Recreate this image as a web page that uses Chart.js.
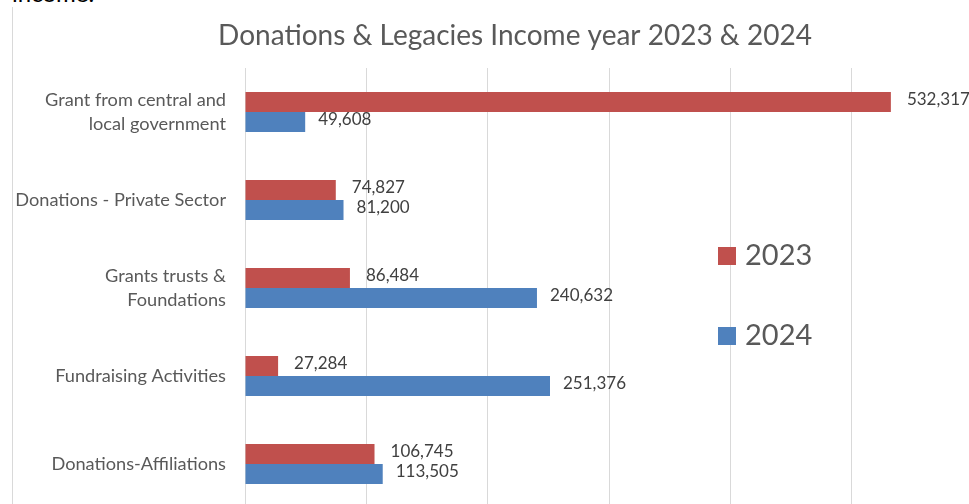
<!DOCTYPE html>
<html>
<head>
<meta charset="utf-8">
<script src="https://cdn.jsdelivr.net/npm/chart.js@4.4.1/dist/chart.umd.min.js"></script>
<style>
  html, body { margin: 0; padding: 0; background: #fff; overflow: hidden; width: 969px; height: 504px; }
  .note { position: absolute; left: 12px; top: -19px; font: 24px Lato, sans-serif; color: #000; line-height: 24px; }
  .frame { position: absolute; left: 12px; top: 7px; width: 961px; height: 520px; border-left: 1px solid #d9d9d9; }
  .wrap { position: absolute; left: 0; top: 0; width: 1030px; height: 520px; }
</style>
</head>
<body>
<div class="note">income.</div>
<div class="frame"></div>
<div class="wrap"><canvas id="chart"></canvas></div>
<script>
const categories = [
  ["Grant from central and", "local government"],
  "Donations - Private Sector",
  ["Grants trusts &", "Foundations"],
  "Fundraising Activities",
  "Donations-Affiliations"
];
const income2023 = [532317, 74827, 86484, 27284, 106745];
const income2024 = [49608, 81200, 240632, 251376, 113505];
const seriesNames = ["2023", "2024"];

const RED = "#c0504d";
const BLUE = "#4f81bd";
const TEXT = "#595959";

// value printed just past the end of every bar
const barValues = {
  id: "barValues",
  afterDatasetsDraw(chart) {
    const ctx = chart.ctx;
    const gap = [16, 13];
    ctx.save();
    ctx.font = "17px Lato";
    ctx.fillStyle = "#404040";
    ctx.textAlign = "left";
    ctx.textBaseline = "middle";
    chart.data.datasets.forEach((ds, i) => {
      chart.getDatasetMeta(i).data.forEach((bar, j) => {
        ctx.fillText(ds.data[j].toLocaleString("en-US"), bar.x + gap[i], bar.y - 2);
      });
    });
    ctx.restore();
  }
};

// legend sits inside the plot, to the right of the bars
const sideLegend = {
  id: "sideLegend",
  afterDraw(chart) {
    const ctx = chart.ctx;
    ctx.save();
    ctx.font = "29px Lato";
    ctx.textBaseline = "middle";
    ctx.textAlign = "left";
    chart.data.datasets.forEach((ds, i) => {
      const y = 256 + i * 80;
      ctx.fillStyle = ds.backgroundColor;
      ctx.fillRect(718, y - 9, 18, 18);
      ctx.fillStyle = TEXT;
      ctx.fillText(ds.label, 745, y);
    });
    ctx.restore();
  }
};

new Chart(document.getElementById("chart"), {
  type: "bar",
  data: {
    labels: categories,
    datasets: [
      { label: seriesNames[0], data: income2023, backgroundColor: RED },
      { label: seriesNames[1], data: income2024, backgroundColor: BLUE }
    ]
  },
  options: {
    indexAxis: "y",
    responsive: true,
    maintainAspectRatio: false,
    animation: false,
    devicePixelRatio: 1,
    categoryPercentage: 0.4545,
    barPercentage: 1,
    layout: { padding: 0 },
    scales: {
      x: {
        min: 0,
        max: 600000,
        ticks: { display: false, stepSize: 100000 },
        grid: { color: "#d9d9d9", drawTicks: false },
        border: { display: false },
        afterFit: (s) => { s.height = 12; }
      },
      y: {
        ticks: {
          color: TEXT,
          padding: 19,
          font: { family: "Lato", size: 18.2, lineHeight: 1.32 }
        },
        grid: { display: false, drawTicks: false },
        border: { display: false },
        afterFit: (s) => {
          s.width = 245;
          // the two-line labels must not push the plot edges inward
          s.paddingTop = 0;
          s.paddingBottom = 0;
        }
      },
      // empty right-hand strip so the plot stops before the title's right edge
      rightGutter: {
        type: "linear",
        position: "right",
        grid: { display: false, drawTicks: false },
        ticks: { display: false },
        border: { display: false },
        afterFit: (s) => { s.width = 57; }
      }
    },
    plugins: {
      legend: { display: false },
      tooltip: { enabled: false },
      title: {
        display: true,
        text: "Donations & Legacies Income year 2023 & 2024",
        color: TEXT,
        font: { family: "Lato", size: 28, weight: "normal" },
        padding: { top: 19, bottom: 15.4 }
      }
    }
  },
  plugins: [barValues, sideLegend]
});
</script>
</body>
</html>
